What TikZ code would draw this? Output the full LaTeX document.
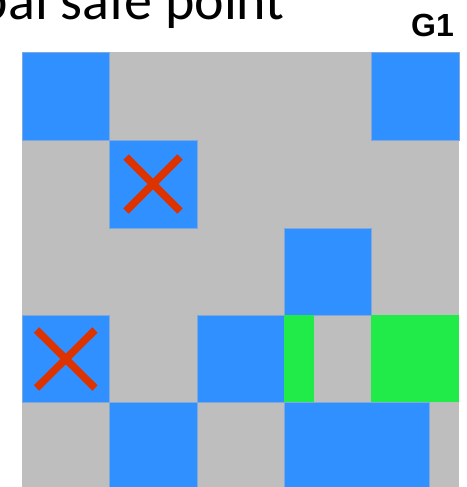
\documentclass[tikz,border=0pt]{standalone}
\usepackage{fontspec}
\setmainfont{Carlito}
\newfontfamily\gfont{Liberation Sans}
\definecolor{cellgrey}{HTML}{BEBEBE}
\definecolor{cellblue}{HTML}{3090FF}
\definecolor{cellgreen}{HTML}{20EB48}
\definecolor{crossred}{HTML}{DD3300}
\definecolor{celledge}{HTML}{7FA8DD}
\tikzset{
  bluecell/.style={fill=cellblue, draw=celledge, line width=0.6pt},
  greencell/.style={fill=cellgreen},
  crossline/.style={draw=crossred, line width=7.5pt, line cap=butt},
  titletext/.style={anchor=base east, inner sep=0pt, font=\fontsize{56}{56}\selectfont},
  gtext/.style={anchor=base east, inner sep=0pt, font=\gfont\bfseries\fontsize{32}{32}\selectfont}
}
\begin{document}
\begin{tikzpicture}[x=1pt,y=-1pt]
\useasboundingbox (0,0) rectangle (466,487);
\clip (0,0) rectangle (466,487);
\fill[white] (0,0) rectangle (466,487);
% title
\node[titletext] (title) at (285,20) {Global safe point};
\node[gtext] (g1) at (454,37) {G1};
% grey background grid
\fill[cellgrey] (22,52) rectangle (459,490);
% blue cells
\path[bluecell] (22,52) rectangle (109.5,140);
\path[bluecell] (371,52) rectangle (459,140);
\path[bluecell] (109.5,140) rectangle (197,228);
\path[bluecell] (284,228) rectangle (371,315);
\path[bluecell] (22,315) rectangle (109.5,402);
\path[bluecell] (197,315) rectangle (284,402);
\path[bluecell] (109.5,402) rectangle (197,490);
\path[bluecell] (284,402) rectangle (429.3,490);
% green cells
\path[greencell] (284,315) rectangle (313.7,402);
\path[greencell] (371,315) rectangle (459,402);
% crosses
\path[crossline] (126,157) -- (180,211);
\path[crossline] (126,211) -- (180,157);
\path[crossline] (36.5,330) -- (95,388);
\path[crossline] (36.5,388) -- (95,330);
\end{tikzpicture}
\end{document}
